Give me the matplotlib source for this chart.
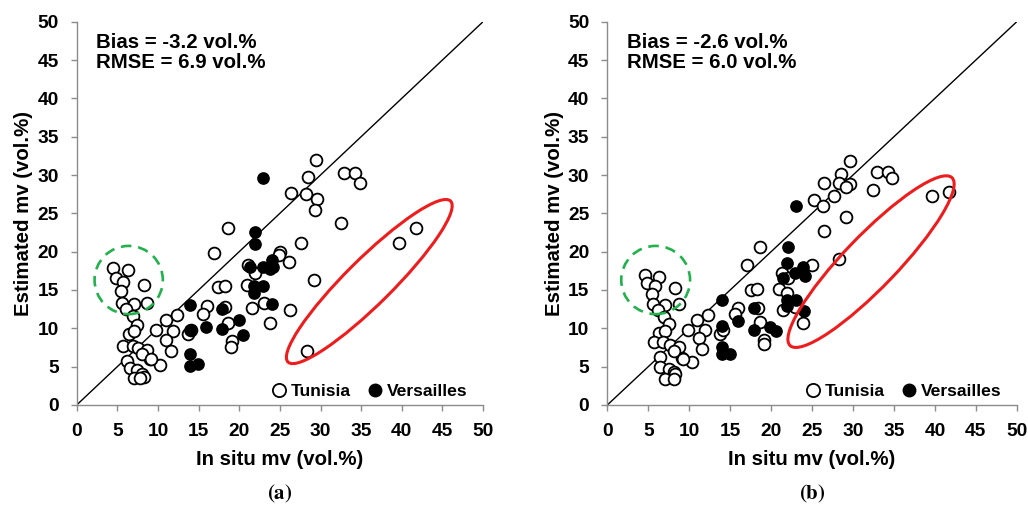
import numpy as np
import matplotlib
matplotlib.use("Agg")
import matplotlib.pyplot as plt
from matplotlib.patches import Ellipse
from matplotlib.lines import Line2D

plt.rcParams['font.family'] = ['Liberation Sans', 'DejaVu Sans']
plt.rcParams['font.weight'] = 'bold'
plt.rcParams['mathtext.fontset'] = 'stix'

# ---- panel (a) data ----
tun_x_a = [29.5, 28.5, 32.9, 34.3, 34.8, 26.4, 28.2, 29.6, 29.3, 32.5, 18.6, 41.7, 39.6,
           27.6, 25.0, 24.9, 16.9, 26.1, 21.1, 21.9, 29.2, 17.4, 18.2, 21.0, 23.1, 21.6,
           26.3, 16.0, 18.2, 15.6, 18.6, 23.8, 12.3, 11.0, 9.7, 11.9, 11.0, 11.6, 13.7,
           14.1, 19.1, 19.0, 28.3, 10.2, 9.0,
           4.5, 6.3, 4.8, 5.7, 8.3, 5.4, 5.6, 7.0, 8.6, 6.1, 6.9, 7.4, 6.4, 7.0, 5.7,
           6.9, 7.6, 8.6, 8.0, 9.2, 6.2, 6.6, 7.4, 8.0, 7.0, 8.3, 7.8]
tun_y_a = [32.0, 29.8, 30.3, 30.2, 29.0, 27.6, 27.5, 26.9, 25.4, 23.8, 23.1, 23.1, 21.1,
           21.1, 19.9, 19.5, 19.8, 18.6, 18.2, 17.2, 16.3, 15.4, 15.5, 15.7, 13.3, 12.6,
           12.4, 12.9, 12.8, 11.9, 10.7, 10.7, 11.8, 11.1, 9.8, 9.6, 8.5, 7.0, 9.3,
           9.8, 8.3, 7.6, 7.0, 5.2, 6.0,
           17.9, 17.6, 16.5, 16.0, 15.7, 14.9, 13.3, 13.2, 13.3, 12.5, 11.6, 10.4, 9.3,
           9.6, 7.7, 7.7, 7.4, 7.2, 6.7, 6.0, 5.8, 4.8, 4.6, 4.1, 3.5, 3.7, 3.5]
ver_x_a = [22.9, 22.0, 21.9, 21.3, 22.9, 24.0, 24.2, 23.8, 21.8, 22.9, 21.8, 13.9, 17.9,
           24.0, 20.0, 13.9, 15.9, 17.9, 20.5, 13.9, 13.9, 14.9]
ver_y_a = [29.6, 22.5, 21.0, 18.0, 18.0, 18.9, 18.0, 17.7, 15.5, 15.5, 14.6, 13.0, 12.5,
           13.2, 11.1, 9.8, 10.2, 9.9, 9.1, 6.7, 5.1, 5.4]

# ---- panel (b) data ----
tun_x_b = [29.6, 28.5, 32.9, 34.3, 34.8, 26.4, 28.3, 29.6, 29.2, 32.5, 27.7, 25.2, 26.3,
           39.6, 41.7, 29.2, 26.4, 18.6, 17.0, 25.0, 28.3, 21.3, 22.1, 17.5, 18.3, 21.0,
           21.9, 16.0, 18.4, 21.5, 22.9, 15.6, 18.6, 23.9, 12.3, 11.0, 9.8, 11.9, 11.2,
           11.6, 13.8, 14.1, 19.1, 19.1, 10.3, 9.1,
           4.6, 6.3, 4.9, 5.8, 8.3, 5.4, 5.6, 7.0, 8.7, 6.2, 6.9, 7.5, 6.3, 7.0, 5.7,
           6.8, 7.6, 8.7, 8.1, 9.2, 6.4, 6.4, 7.5, 8.1, 7.0, 8.3, 8.1]
tun_y_b = [31.8, 30.1, 30.4, 30.4, 29.6, 29.0, 29.0, 28.8, 28.4, 28.0, 27.3, 26.7, 26.0,
           27.3, 27.8, 24.5, 22.7, 20.6, 18.3, 18.2, 19.0, 17.2, 16.5, 15.0, 15.1, 15.1,
           14.6, 12.7, 12.7, 12.4, 12.8, 11.9, 10.8, 10.7, 11.8, 11.1, 9.8, 9.8, 8.8,
           7.3, 9.3, 9.8, 8.5, 8.0, 5.6, 6.1,
           16.9, 16.7, 15.9, 15.5, 15.3, 14.5, 13.2, 13.0, 13.2, 12.4, 11.5, 10.6, 9.4,
           9.6, 8.2, 8.2, 7.8, 7.6, 7.0, 6.0, 6.2, 4.9, 4.7, 4.3, 3.4, 4.0, 3.4]
ver_x_b = [23.0, 22.0, 21.9, 22.9, 23.9, 23.9, 24.1, 21.4, 21.9, 23.0, 21.9, 24.0, 14.0,
           17.9, 16.0, 14.0, 17.9, 19.9, 20.6, 14.0, 14.0, 15.0]
ver_y_b = [25.9, 20.6, 18.5, 17.2, 18.0, 17.4, 16.8, 16.5, 13.7, 13.7, 12.9, 12.2, 13.7,
           12.6, 11.0, 10.3, 9.8, 10.2, 9.6, 7.6, 6.6, 6.6]

bias_text = ["Bias = -3.2 vol.%\nRMSE = 6.9 vol.%", "Bias = -2.6 vol.%\nRMSE = 6.0 vol.%"]
ticks = list(range(0, 55, 5))

fig = plt.figure(figsize=(10.28, 5.08), dpi=100)
ax_a = fig.add_axes([0.0746, 0.2028, 0.3953, 0.7545])
ax_b = fig.add_axes([0.5908, 0.2028, 0.3983, 0.7545])

panels = [
    (ax_a, tun_x_a, tun_y_a, ver_x_a, ver_y_a, bias_text[0], (6.4, 16.3), (36.0, 16.1, 29.0, 5.8, 46.5), 'a'),
    (ax_b, tun_x_b, tun_y_b, ver_x_b, ver_y_b, bias_text[1], (5.9, 16.3), (32.2, 18.7, 29.5, 6.6, 48.1), 'b'),
]

grey = '#8c8c8c'
for ax, tx, ty, vx, vy, txt, gc, rc, lab in panels:
    ax.plot([0, 50], [0, 50], color='black', lw=1.0, zorder=1)
    ax.scatter(tx, ty, s=72, facecolors='white', edgecolors='black', linewidths=1.3, zorder=3)
    ax.scatter(vx, vy, s=66, color='black', zorder=4)

    ax.add_patch(Ellipse(gc, 8.4, 8.9, fill=False, edgecolor='#22b14c', lw=1.9,
                         linestyle=(0, (4, 2.6)), zorder=5))
    ax.add_patch(Ellipse(rc[:2], rc[2], rc[3], angle=rc[4], fill=False, edgecolor='#ee1c1c',
                         lw=2.2, zorder=5))

    ax.text(0.047, 0.97, txt, transform=ax.transAxes, fontsize=14.7, fontweight='bold',
            va='top', ha='left', linespacing=1.08)

    ax.set_xlim(0, 50)
    ax.set_ylim(0, 50)
    ax.set_xticks(ticks)
    ax.set_yticks(ticks)
    for s in ['top', 'right']:
        ax.spines[s].set_visible(False)
    for s in ['left', 'bottom']:
        ax.spines[s].set_color(grey)
        ax.spines[s].set_linewidth(1.0)
    ax.tick_params(colors=grey, labelcolor='black', length=4.3, width=1.0, labelsize=13.8, pad=8.7)
    for t in ax.get_xticklabels() + ax.get_yticklabels():
        t.set_fontweight('bold')
    ax.set_xlabel('In situ mv (vol.%)', fontsize=14.7, fontweight='bold', labelpad=7.5)
    ax.set_ylabel('Estimated mv (vol.%)', fontsize=14.7, fontweight='bold', labelpad=3)

    handles = [
        Line2D([], [], ls='none', marker='o', markersize=9.5, markerfacecolor='white',
               markeredgecolor='black', markeredgewidth=1.3),
        Line2D([], [], ls='none', marker='o', markersize=9, color='black'),
    ]
    ax.legend(handles, ['Tunisia', 'Versailles'], ncol=2, frameon=False, loc='lower right',
              bbox_to_anchor=(1.0, -0.025), handletextpad=0.15, columnspacing=0.9,
              handlelength=1.0, prop={'weight': 'bold', 'size': 12.6})

    cx = (ax.get_position().x0 + ax.get_position().x1) / 2
    fig.text(cx, 0.016, r'$\mathrm{(}\mathbf{%s}\mathrm{)}$' % lab, ha='center', va='baseline',
             fontsize=15)

fig.savefig('out.png', dpi=100)
